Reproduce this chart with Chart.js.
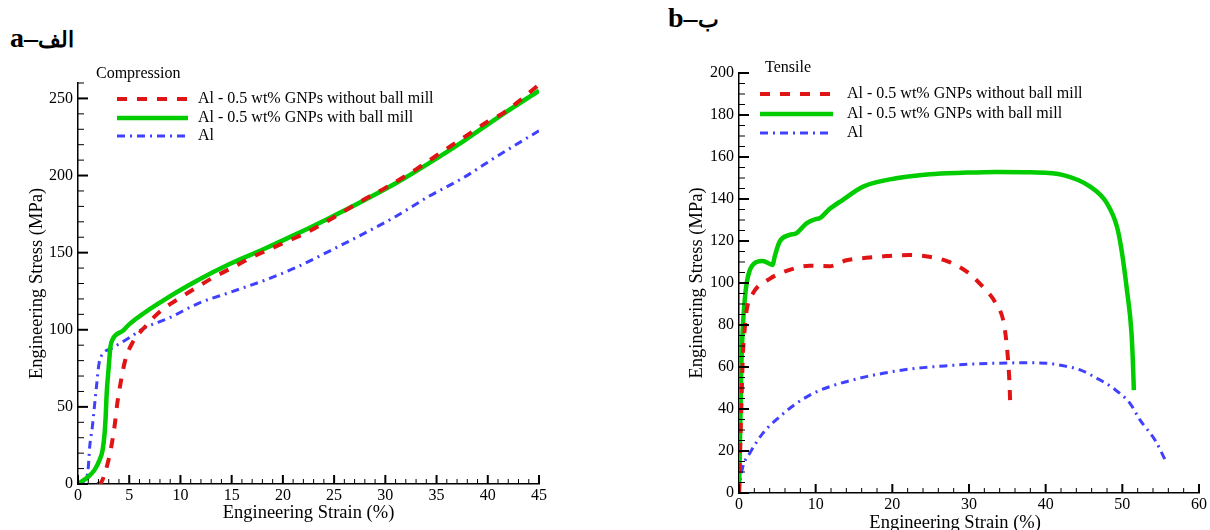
<!DOCTYPE html>
<html>
<head>
<meta charset="utf-8">
<script src="https://cdn.jsdelivr.net/npm/chart.js@4.4.1/dist/chart.umd.min.js"></script>
<style>
  body { margin: 0; background: #fff; }
  #wrap { position: relative; width: 1210px; height: 530px; overflow: hidden; font-family: "Liberation Serif", serif; }
  .box { position: absolute; top: 0; height: 530px; }
  #boxA { left: 0; width: 600px; }
  #boxB { left: 600px; width: 610px; }
  .tag { position: absolute; font-weight: bold; font-size: 28px; line-height: 1; white-space: nowrap; color: #000; }
  .tag span { font-size: 22px; }
</style>
</head>
<body>
<div id="wrap">
  <div class="tag" style="left:10px; top:24px;">a–<span>الف</span></div>
  <div class="tag" style="left:668px; top:4px;">b–<span>ب</span></div>
  <div class="box" id="boxA"><canvas id="compChart" width="600" height="530"></canvas></div>
  <div class="box" id="boxB"><canvas id="tensChart" width="610" height="530"></canvas></div>
</div>
<script>
// series labels
const seriesNames = ['Al - 0.5 wt% GNPs without ball mill', 'Al - 0.5 wt% GNPs with ball mill', 'Al'];

// compression (strain %, stress MPa)
const compNoMillStrain = [1.9, 2.3, 2.9, 3.3, 3.6, 3.85, 4.2, 4.6, 5.35, 6.5, 8.1, 9.8, 11.6, 13.2, 15.1, 16.9, 18.7, 20.5, 22.3, 25, 27.8, 30, 33, 35, 37.6, 40, 41.5, 43, 45];
const compNoMillStress = [0, 1.5, 13.5, 26, 39, 53, 67, 80, 92, 101.6, 112.4, 120, 127.5, 133.9, 140.4, 146.8, 152.2, 157.6, 163, 173, 184, 192, 204, 213, 224.4, 235, 240.5, 248, 259];
const compMillStrain = [0, 1.0, 1.6, 2.1, 2.4, 2.6, 2.7, 2.8, 3.0, 3.16, 3.4, 4.4, 5.05, 8.3, 11.6, 14.8, 18.1, 21.3, 24.6, 27.8, 31.1, 34.3, 37.6, 40.9, 45];
const compMillStress = [0, 4.7, 9, 15.5, 22, 33, 43.5, 58.7, 75.8, 88.7, 94, 99.5, 103.8, 118.9, 131.8, 142.6, 152.2, 162, 172.7, 183.5, 195.3, 208.2, 222.2, 237.3, 255];
const compAlStrain = [0, 0.65, 0.98, 1.14, 1.4, 1.6, 1.8, 2.05, 2.44, 3.3, 5.05, 6.3, 9, 11.6, 14.8, 18.1, 21.3, 24.6, 27.8, 31.1, 34.3, 37.6, 40.9, 45];
const compAlStress = [0, 2.6, 9, 24, 37, 50, 63, 78, 84.5, 88, 95, 100.5, 108, 116.7, 124.2, 131.8, 140.4, 151.2, 162, 173.8, 186.7, 198.5, 212.5, 229];

// tensile (strain %, stress MPa)
const tensNoMillStrain = [0, 0.3, 0.5, 0.7, 1, 1.8, 4, 6.4, 9.2, 11.8, 14, 16.6, 19.2, 22.2, 24.8, 27.3, 29.7, 31.7, 33.5, 34.5, 34.9, 35.15, 35.3, 35.4];
const tensNoMillStress = [0, 40, 65, 76, 87, 95, 102, 106, 108.2, 108, 110.8, 112, 112.8, 113.3, 112.5, 110.2, 105.4, 98.6, 90.3, 81.6, 71.3, 60.5, 50.6, 39.5];
const tensMillStrain = [0, 0.1, 0.2, 0.3, 0.5, 0.75, 1.0, 1.4, 2.3, 3.1, 4.4, 4.65, 5.3, 6.6, 7.5, 8.8, 10.1, 10.5, 11.8, 13.5, 16.2, 20.5, 24.9, 29.2, 33.6, 38, 42.3, 45.8, 48, 49.3, 49.9, 50.6, 51.2, 51.4, 51.5];
const tensMillStress = [0, 20, 40, 60, 79, 92, 99.9, 106, 110, 110.5, 108.6, 112.5, 119.7, 122.9, 123.7, 128.4, 130.5, 130.8, 135.2, 139.5, 145.9, 149.9, 151.8, 152.5, 152.9, 152.7, 151.4, 145.9, 137.9, 126.8, 115.7, 96.7, 76, 60.1, 49];
const tensAlStrain = [0, 0.1, 0.5, 1.4, 3.1, 5.3, 7.5, 9.7, 11.8, 14, 16.6, 18.8, 21.4, 24, 27.1, 30.5, 33.6, 37.1, 40.1, 42.3, 44.5, 46.7, 48.8, 51, 52.3, 54.3, 55.6];
const tensAlStress = [0, 4.6, 12.5, 18.9, 28.4, 36.3, 42.7, 47.5, 50.6, 53, 55.4, 57, 58.6, 59.7, 60.6, 61.4, 61.8, 62, 61.8, 60.6, 58.6, 54.6, 49.9, 42.7, 34.8, 25, 15.7];

function pts(xs, ys) {
    return xs.map((x, i) => ({ x: x, y: ys[i] }));
}

const RED = '#e01414', GREEN = '#00cc00', BLUE = '#4040ff';
const FONT = 'Liberation Serif';

function makeDatasets(noMill, mill, al) {
    return [
        { label: seriesNames[0], data: noMill, borderColor: RED, borderWidth: 4, borderDash: [10, 10] },
        { label: seriesNames[1], data: mill, borderColor: GREEN, borderWidth: 4.5, borderDash: [] },
        { label: seriesNames[2], data: al, borderColor: BLUE, borderWidth: 3, borderDash: [8, 5, 2, 5] }
    ].map(d => Object.assign(d, {
        showLine: true, pointRadius: 0, fill: false, cubicInterpolationMode: 'monotone'
    }));
}

// inward tick marks: minor step and how many minors per major
const compTicks = { xMinor: 1, xEvery: 5, yMinor: 10, yEvery: 5 };
const tensTicks = { xMinor: 2, xEvery: 5, yMinor: 5, yEvery: 4 };

function drawTicks(chart, t) {
    const ctx = chart.ctx, xs = chart.scales.x, ys = chart.scales.y, a = chart.chartArea;
    ctx.save();
    ctx.strokeStyle = '#000';
    const nx = Math.round((xs.max - xs.min) / t.xMinor);
    for (let i = 0; i <= nx; i++) {
        const px = xs.getPixelForValue(xs.min + i * t.xMinor);
        ctx.lineWidth = (i % t.xEvery === 0) ? 2 : 1;
        ctx.beginPath();
        ctx.moveTo(px, a.bottom);
        ctx.lineTo(px, a.bottom - ((i % t.xEvery === 0) ? 9 : 5));
        ctx.stroke();
    }
    const ny = Math.round((ys.max - ys.min) / t.yMinor);
    for (let i = 0; i <= ny; i++) {
        const py = ys.getPixelForValue(ys.min + i * t.yMinor);
        ctx.lineWidth = (i % t.yEvery === 0) ? 2 : 1;
        ctx.beginPath();
        ctx.moveTo(a.left, py);
        ctx.lineTo(a.left + ((i % t.yEvery === 0) ? 10 : 6), py);
        ctx.stroke();
    }
    ctx.restore();
}

// legend drawn inside the plot, Tecplot style
function drawLegend(chart, o) {
    const ctx = chart.ctx;
    ctx.save();
    ctx.fillStyle = '#000';
    ctx.textBaseline = 'middle';
    ctx.font = '16px ' + FONT;
    ctx.fillText(o.title, o.titleX, o.titleY);
    chart.data.datasets.forEach((d, i) => {
        const y = o.rows[i];
        ctx.strokeStyle = d.borderColor;
        ctx.lineWidth = d.borderWidth;
        ctx.setLineDash(d.borderDash);
        ctx.beginPath();
        ctx.moveTo(o.lineX0, y);
        ctx.lineTo(o.lineX1, y);
        ctx.stroke();
        ctx.setLineDash([]);
        ctx.fillText(d.label, o.textX, y);
    });
    ctx.restore();
}

function axis(min, max, step, title, fitSize, isX, titlePad) {
    return {
        type: 'linear', min: min, max: max,
        ticks: { stepSize: step, includeBounds: false, color: '#000', font: { family: FONT, size: 16 }, padding: isX ? 2 : 5, maxRotation: 0 },
        grid: { display: false, drawTicks: false },
        border: { display: true, color: '#000', width: 1.5 },
        title: { display: true, text: title, color: '#000', font: { family: FONT, size: 18.5 }, padding: titlePad },
        afterFit: s => { if (isX) s.height = fitSize; else s.width = fitSize; }
    };
}

new Chart(document.getElementById('compChart'), {
    type: 'scatter',
    data: { datasets: makeDatasets(pts(compNoMillStrain, compNoMillStress), pts(compMillStrain, compMillStress), pts(compAlStrain, compAlStress)) },
    options: {
        responsive: false,
        animation: false,
        layout: { padding: { left: 0, top: 83, right: 61, bottom: 0 } },
        scales: {
            x: axis(0, 45, 5, 'Engineering Strain (%)', 46, true, { top: 0, bottom: 6 }),
            y: axis(0, 260, 50, 'Engineering Stress (MPa)', 78, false, { top: 26, bottom: 0 })
        },
        plugins: { legend: { display: false }, tooltip: { enabled: false } }
    },
    plugins: [{
        id: 'compDecor',
        afterDraw(chart) {
            drawLegend(chart, { title: 'Compression', titleX: 96, titleY: 74, lineX0: 117, lineX1: 188, textX: 198, rows: [99, 118, 136] });
            drawTicks(chart, compTicks);
        }
    }]
});

new Chart(document.getElementById('tensChart'), {
    type: 'scatter',
    data: { datasets: makeDatasets(pts(tensNoMillStrain, tensNoMillStress), pts(tensMillStrain, tensMillStress), pts(tensAlStrain, tensAlStress)) },
    options: {
        responsive: false,
        animation: false,
        layout: { padding: { left: 79, top: 73, right: 11, bottom: 0 } },
        scales: {
            x: axis(0, 60, 10, 'Engineering Strain (%)\u00a0\u00a0\u00a0\u00a0\u00a0\u00a0', 37, true, { top: 0, bottom: -4 }),
            y: axis(0, 200, 20, 'Engineering Stress (MPa)', 60, false, { top: 7, bottom: 0 })
        },
        plugins: { legend: { display: false }, tooltip: { enabled: false } }
    },
    plugins: [{
        id: 'tensDecor',
        afterDraw(chart) {
            drawLegend(chart, { title: 'Tensile', titleX: 165, titleY: 68, lineX0: 160, lineX1: 233, textX: 247, rows: [94, 114, 133] });
            drawTicks(chart, tensTicks);
        }
    }]
});
</script>
</body>
</html>
